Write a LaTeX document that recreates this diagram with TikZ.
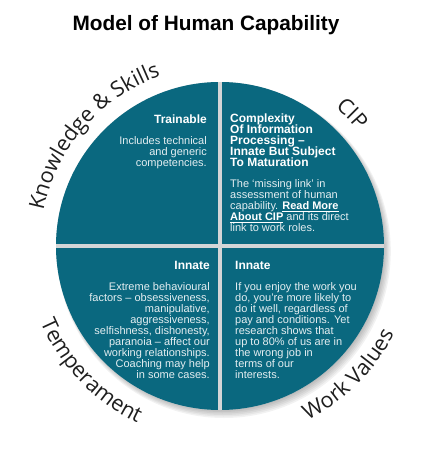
\documentclass[tikz,border=0pt]{standalone}
\usepackage{fontspec}
\setmainfont{Liberation Sans}
\newfontfamily\arcfont{Open Sans}
\usetikzlibrary{decorations.text,positioning}
\definecolor{capteal}{RGB}{10,104,127}
\definecolor{capgap}{RGB}{212,214,215}
\definecolor{captext}{RGB}{228,238,241}
\definecolor{arcink}{RGB}{30,30,30}
\newcommand\arclabelfont{\arcfont\fontsize{21.5}{22}\selectfont}
\newcommand\tightlines{\lineskiplimit=-20pt\relax}
\tikzset{
    titletxt/.style={
        font=\fontsize{20.8}{24}\selectfont\bfseries, text=black, inner sep=0pt
    }
}

\begin{document}
\begin{tikzpicture}[
  x=1pt, y=1pt,
  line cap=round,
  line join=round,
  headtxt/.style={font=\fontsize{12}{11}\selectfont\bfseries\tightlines, text=white, inner sep=0pt, align=left},
  bodytxt/.style={font=\fontsize{11}{11}\selectfont\tightlines, text=captext, inner sep=0pt},
  arclab/.style={decorate, decoration={text along path, text align=center, text color=arcink, text={|\arclabelfont|#1}}}
]
\useasboundingbox (0,0) rectangle (422,-449);

% ---------- title ----------
\node[titletxt] (title) at (206,-25) {Model of Human Capability};

% ---------- shadow ----------
\foreach \k in {1,...,6}
  \fill[black, opacity=0.05] (221+0.5*\k,-247-0.7*\k) circle (162+0.8*\k);

% ---------- disc, four quarters ----------
\begin{scope}
  \clip (220,-246) circle (164);
  \fill[capgap] (50,-76) rectangle (390,-416);
  \fill[capteal] (50,-76) rectangle (218,-244);
  \fill[capteal] (222,-76) rectangle (390,-244);
  \fill[capteal] (50,-248) rectangle (218,-416);
  \fill[capteal] (222,-248) rectangle (390,-416);
\end{scope}

% ---------- curved labels ----------
\path[arclab={Knowledge {\&} Skills}] (220,-246) ++(175:180) arc[start angle=175, end angle=103, radius=180];
\path[arclab={CIP}] (220,-246) ++(75:180) arc[start angle=75, end angle=15, radius=180];
\path[arclab={Temperament}] (220,-246) ++(190:195) arc[start angle=190, end angle=258, radius=195];
\path[arclab={Work Values}] (220,-246) ++(281:195) arc[start angle=281, end angle=349, radius=195];

% ---------- quarter texts ----------
\node[headtxt, anchor=east] (ks-head) at (207,-119) {Trainable};
\node[bodytxt, align=right, below=13pt of ks-head.south east, anchor=north east] (ks-body)
  {Includes technical\\and generic\\competencies.};

\node[headtxt, anchor=north west] (cip-head) at (230,-113.3)
  {Complexity\\Of Information\\Processing --\\Innate But Subject\\To Maturation};
\node[bodytxt, align=left, below=13pt of cip-head.south west, anchor=north west] (cip-body)
  {The `missing link' in\\assessment of human\\capability. \textbf{\textcolor{white}{\underline{Read More}}}\\\textbf{\textcolor{white}{\underline{About CIP}}} and its direct\\link to work roles.};

\node[headtxt, anchor=east] (tmp-head) at (210,-265) {Innate};
\node[bodytxt, align=right, below=12.5pt of tmp-head.south east, anchor=north east] (tmp-body)
  {Extreme behavioural\\factors -- obsessiveness,\\manipulative,\\aggressiveness,\\selfishness, dishonesty,\\paranoia -- affect our\\working relationships.\\Coaching may help\\in some cases.};

\node[headtxt, anchor=west] (wv-head) at (235,-265) {Innate};
\node[bodytxt, align=left, below=13pt of wv-head.south west, anchor=north west] (wv-body)
  {If you enjoy the work you\\do, you're more likely to\\do it well, regardless of\\pay and conditions. Yet\\research shows that\\up to 80\% of us are in\\the wrong job in\\terms of our\\interests.};

\end{tikzpicture}
\end{document}
